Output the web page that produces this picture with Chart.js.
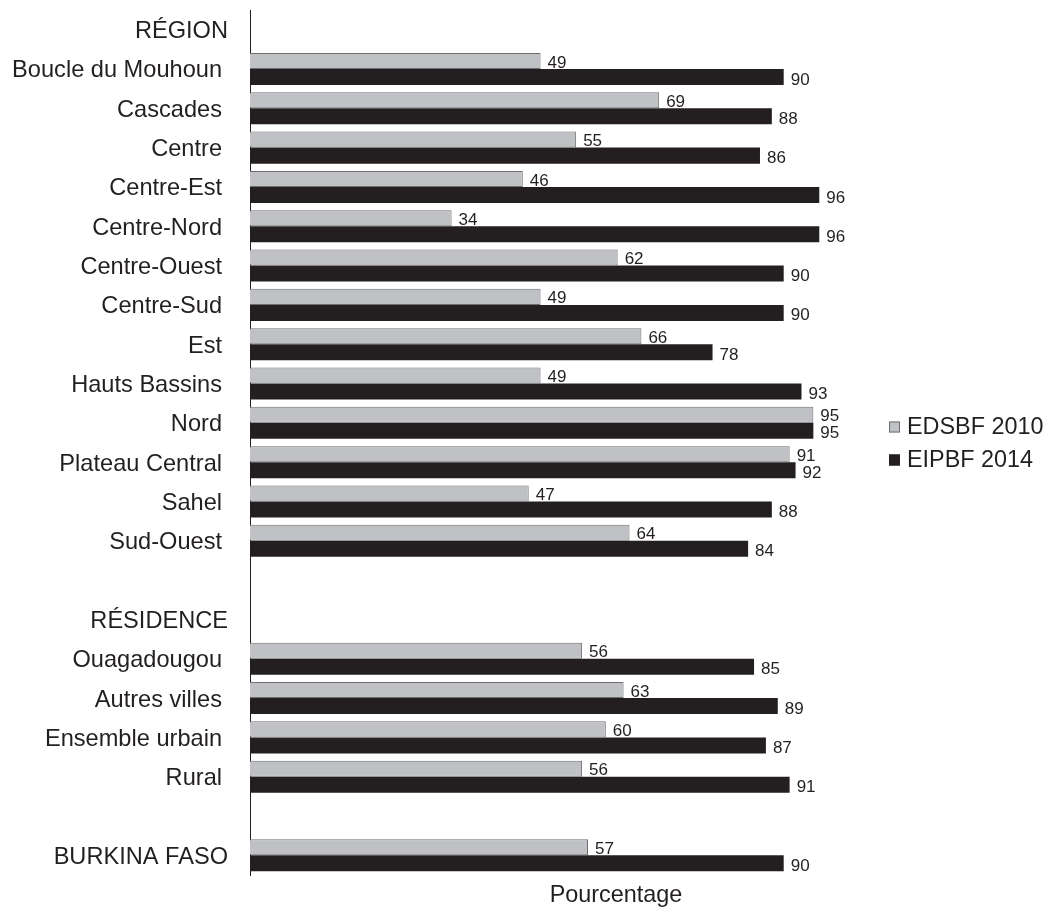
<!DOCTYPE html>
<html>
<head>
<meta charset="utf-8">
<script src="https://cdn.jsdelivr.net/npm/chart.js@4/dist/chart.umd.min.js"></script>
<style>
  html, body { margin: 0; padding: 0; background: #ffffff; }
  #wrap { width: 1048px; height: 907px; position: relative; }
</style>
</head>
<body>
<div id="wrap"><canvas id="c" width="1048" height="907"></canvas></div>
<script>
// Row labels (headers and spacer rows have no bars)
const categories = [
  'RÉGION',
  'Boucle du Mouhoun', 'Cascades', 'Centre', 'Centre-Est', 'Centre-Nord',
  'Centre-Ouest', 'Centre-Sud', 'Est', 'Hauts Bassins', 'Nord',
  'Plateau Central', 'Sahel', 'Sud-Ouest',
  '',
  'RÉSIDENCE',
  'Ouagadougou', 'Autres villes', 'Ensemble urbain', 'Rural',
  '',
  'BURKINA FASO'
];

// Section headings sit a little further right than the ordinary rows
const headings = ['RÉGION', 'RÉSIDENCE', 'BURKINA FASO'];

const seriesNames = ['EDSBF 2010', 'EIPBF 2014'];

const edsbf2010 = [
  null,
  49, 69, 55, 46, 34, 62, 49, 66, 49, 95, 91, 47, 64,
  null, null,
  56, 63, 60, 56,
  null,
  57
];

const eipbf2014 = [
  null,
  90, 88, 86, 96, 96, 90, 90, 78, 93, 95, 92, 88, 84,
  null, null,
  85, 89, 87, 91,
  null,
  90
];

const axisTitle = 'Pourcentage';

const INK = '#231f20';
const FONT = "'Liberation Sans', Arial, sans-serif";
const DIGIT_MID = 0.358; // half the cap height, in em

// Category names to the left of the axis line
const rowLabels = {
  id: 'rowLabels',
  afterDraw(chart) {
    const ctx = chart.ctx;
    const y = chart.scales.y;
    const size = 23.6;
    ctx.save();
    ctx.font = size + 'px ' + FONT;
    ctx.fillStyle = INK;
    ctx.textAlign = 'right';
    ctx.textBaseline = 'alphabetic';
    chart.data.labels.forEach((lab, i) => {
      if (!lab) return;
      const right = headings.includes(lab) ? 228 : 222;
      const cy = y.getPixelForValue(i);
      ctx.fillText(lab, right, cy + DIGIT_MID * size);
    });
    ctx.restore();
  }
};

// Writes each bar's value just past its end
const valueLabels = {
  id: 'valueLabels',
  afterDatasetsDraw(chart) {
    const ctx = chart.ctx;
    const size = 17;
    ctx.save();
    ctx.font = size + 'px ' + FONT;
    ctx.fillStyle = INK;
    ctx.textAlign = 'left';
    ctx.textBaseline = 'alphabetic';
    chart.data.datasets.forEach((ds, di) => {
      const meta = chart.getDatasetMeta(di);
      const dy = di === 0 ? 0.5 : 1.5;
      meta.data.forEach((bar, i) => {
        const v = ds.data[i];
        if (v === null || v === undefined) return;
        ctx.fillText(String(v), bar.x + 7, bar.y + dy + DIGIT_MID * size);
      });
    });
    ctx.restore();
  }
};

// Legend and axis title
const extras = {
  id: 'extras',
  afterDraw(chart) {
    const ctx = chart.ctx;
    const area = chart.chartArea;
    const box = 11;
    const x = area.right + 46;
    const rows = [427, 460];
    const size = 23.4;
    ctx.save();
    ctx.font = size + 'px ' + FONT;
    ctx.textAlign = 'left';
    ctx.textBaseline = 'alphabetic';
    chart.data.datasets.forEach((ds, i) => {
      const y = rows[i];
      ctx.fillStyle = ds.backgroundColor;
      ctx.fillRect(x, y - box / 2, box, box);
      ctx.strokeStyle = ds.borderColor;
      ctx.lineWidth = 1;
      ctx.strokeRect(x + 0.5, y - box / 2 + 0.5, box - 1, box - 1);
      ctx.fillStyle = INK;
      ctx.fillText(ds.label, x + box + 7, y - 1 + DIGIT_MID * size);
    });
    ctx.textAlign = 'center';
    ctx.fillText(axisTitle, 616, 902);
    ctx.restore();
  }
};

new Chart(document.getElementById('c'), {
  type: 'bar',
  data: {
    labels: categories,
    datasets: [
      {
        label: seriesNames[0],
        data: edsbf2010,
        backgroundColor: '#c0c1c4',
        borderColor: '#6d6e71',
        borderWidth: 1,
        borderSkipped: 'start'
      },
      {
        label: seriesNames[1],
        data: eipbf2014,
        backgroundColor: INK,
        borderColor: INK,
        borderWidth: 0
      }
    ]
  },
  options: {
    indexAxis: 'y',
    responsive: false,
    animation: false,
    devicePixelRatio: 1,
    datasets: { bar: { categoryPercentage: 0.815, barPercentage: 1.0 } },
    layout: { padding: { top: 10, right: 205, bottom: 32, left: 0 } },
    plugins: {
      legend: { display: false },
      tooltip: { enabled: false }
    },
    scales: {
      x: {
        min: 0,
        max: 100,
        grid: { display: false },
        border: { display: false },
        ticks: { display: false },
        title: { display: false },
        afterFit(scale) { scale.height = 0; scale.paddingLeft = 0; scale.paddingRight = 0; }
      },
      y: {
        grid: { display: false, drawTicks: false },
        border: { display: true, color: INK, width: 1 },
        ticks: { display: false, autoSkip: false },
        afterFit(scale) {
          scale.width = 250;
          scale.paddingTop = 0;
          scale.paddingBottom = 0;
        }
      }
    }
  },
  plugins: [valueLabels, rowLabels, extras]
});
</script>
</body>
</html>
